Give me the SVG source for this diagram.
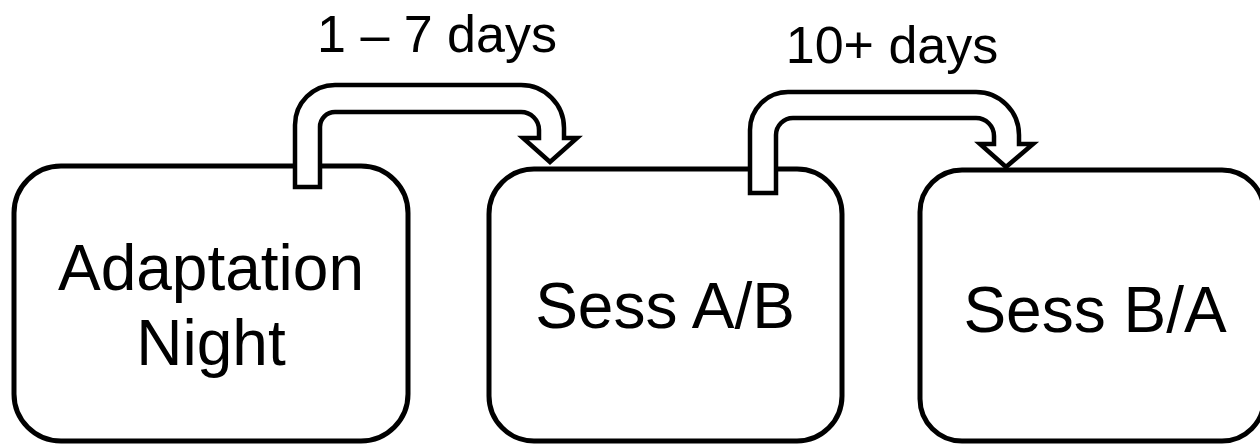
<svg xmlns="http://www.w3.org/2000/svg" width="1260" height="444" viewBox="0 0 1260 444">
<style>
.box{fill:#fff;stroke:#000;stroke-width:5}
.arr{fill:#fff;stroke:#000;stroke-width:4.5;stroke-linejoin:miter}
.t{font-family:"Liberation Sans",Arial,sans-serif;fill:#000;text-anchor:middle}
.big{font-size:64px}
.lab{font-size:52px}
</style>
<rect width="1260" height="444" fill="#fff"/>
<g id="node-adaptation">
<rect class="box" x="14" y="166" width="394" height="275" rx="47"/>
<text class="t big" x="211" y="290">Adaptation</text>
<text class="t big" x="211" y="365">Night</text>
</g>
<g id="node-sessAB">
<rect class="box" x="489" y="169" width="353" height="272" rx="45"/>
<text class="t big" x="665" y="328">Sess A/B</text>
</g>
<g id="node-sessBA">
<rect class="box" x="920" y="170" width="344" height="271" rx="42"/>
<text class="t big" x="1095" y="332">Sess B/A</text>
</g>
<g id="connectors">
<path class="arr" d="M295,187 L295,125 A40,40 0 0 1 335,85 L521,85 A43,43 0 0 1 564,128 L564,138 L577,138 L550,162 L523,138 L539,138 L539,130 A18,18 0 0 0 521,112 L335,112 A15,15 0 0 0 320,127 L320,187 Z"/>
<path class="arr" d="M750,193 L750,130 A38,38 0 0 1 788,92 L976,92 A43,43 0 0 1 1019,135 L1019,144 L1033,144 L1006,167 L980,144 L994,144 L994,136 A18,18 0 0 0 976,118 L793,118 A17,17 0 0 0 776,135 L776,193 Z"/>
<text class="t lab" x="437" y="52">1 – 7 days</text>
<text class="t lab" x="892" y="63">10+ days</text>
</g>
</svg>
